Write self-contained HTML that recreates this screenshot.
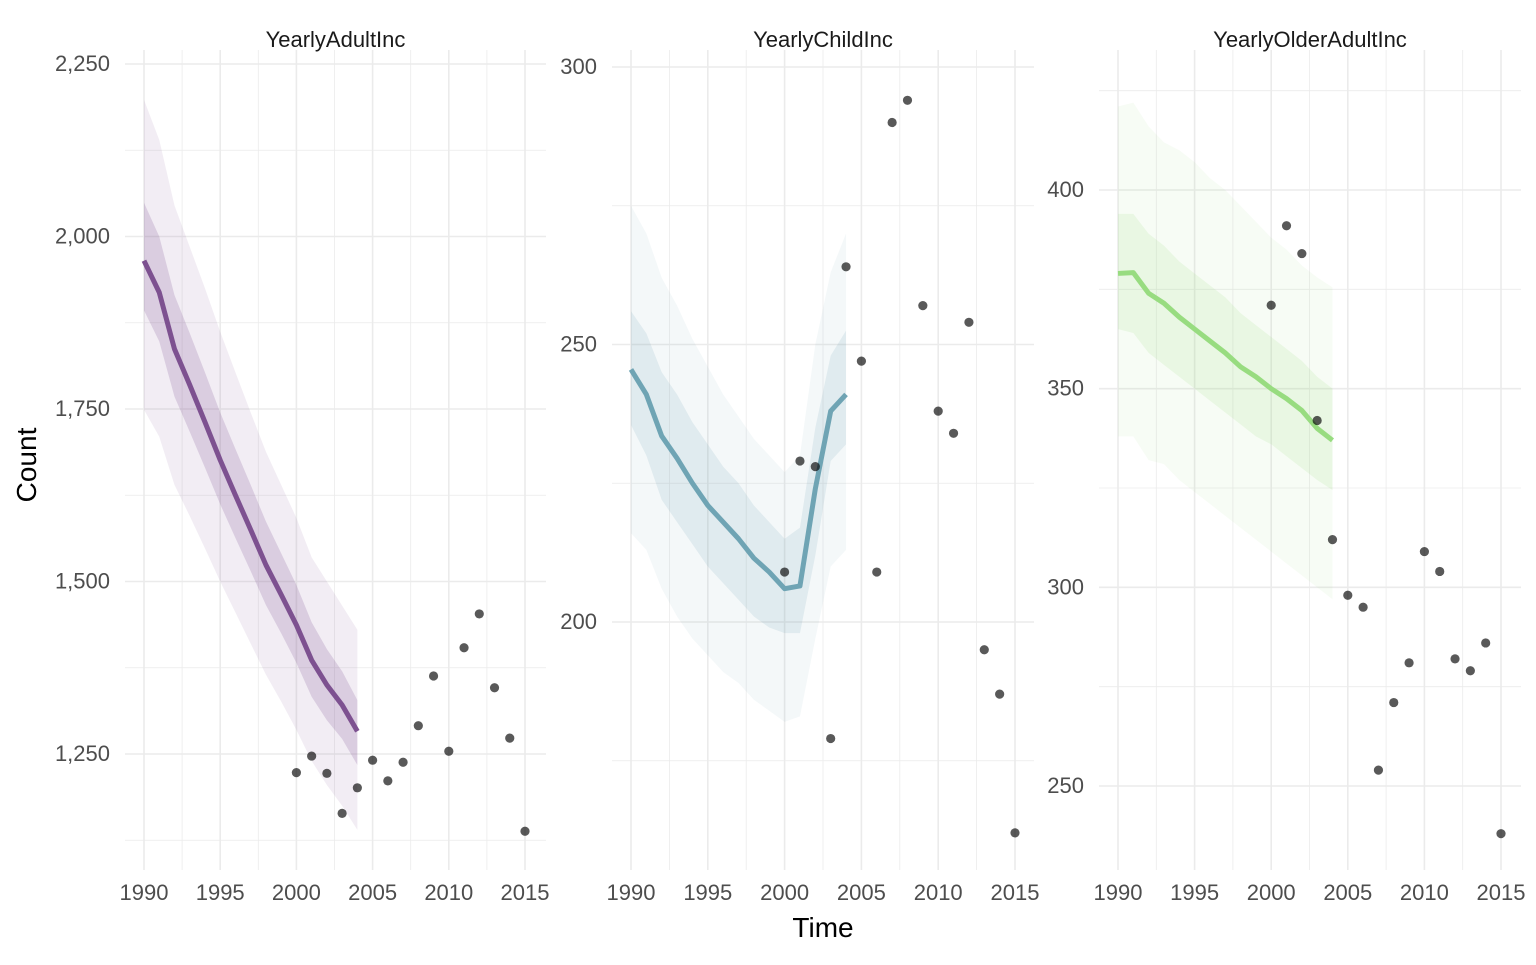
<!DOCTYPE html>
<html><head><meta charset="utf-8">
<style>
body{margin:0;background:#fff;font-family:"Liberation Sans",sans-serif;}
svg text{font-family:"Liberation Sans",sans-serif;}
</style></head>
<body>
<svg id="chart" width="1536" height="960" xmlns="http://www.w3.org/2000/svg">
<text x="36" y="465" font-size="28" text-anchor="middle" transform="rotate(-90 36 465)" fill="#000">Count</text>
<text x="823" y="937" font-size="28" text-anchor="middle" fill="#000">Time</text>
</svg>
<script>
const fcYears=[1990,1991,1992,1993,1994,1995,1996,1997,1998,1999,2000,2001,2002,2003,2004];
const obsYears=[2000,2001,2002,2003,2004,2005,2006,2007,2008,2009,2010,2011,2012,2013,2014,2015];
const xTicks=[1990,1995,2000,2005,2010,2015];
const xTickLabels=["1990","1995","2000","2005","2010","2015"];

const adultMean=[1965,1919,1837,1785,1731,1676,1625,1575,1524,1481,1437,1386,1350,1321,1283];
const adultHi80=[2049,2000,1915,1860,1803,1745,1692,1640,1587,1541,1495,1441,1402,1370,1328];
const adultLo80=[1893,1848,1768,1717,1665,1612,1563,1515,1466,1425,1382,1333,1299,1272,1234];
const adultHi95=[2198,2140,2045,1985,1925,1862,1803,1745,1688,1640,1592,1535,1500,1465,1430];
const adultLo95=[1749,1710,1640,1595,1548,1500,1455,1410,1365,1326,1285,1240,1205,1175,1140];
const adultObs=[1223,1247,1222,1164,1201,1241,1211,1238,1291,1363,1254,1404,1453,1346,1273,1138];
const adultTicks=[1250,1500,1750,2000,2250];
const adultTickLabels=["1,250","1,500","1,750","2,000","2,250"];

const childMean=[245.5,241,233.5,229.5,225,221,218,215,211.5,209,206,206.5,224,238,241];
const childHi80=[256,252,245,241,236,232,228,225,221,218,215,217,235,248,252.5];
const childLo80=[235.5,230,222,218,214,210,207,204,201,199,198,198,212,229,232];
const childHi95=[275,270,262,257,251,246,241,237,233,230,227,230,250,263,270];
const childLo95=[216,213,206,201,197,194,191,189,186,184,182,183,197,210,213];
const childObs=[209,229,228,179,264,247,209,290,294,257,238,234,254,195,187,162];
const childTicks=[200,250,300];
const childTickLabels=["200","250","300"];

const olderMean=[379,379.2,374,371.5,368,365,362,359,355.5,353,350,347.5,344.5,340,337];
const olderHi80=[394,394,389,386,382,379,376,373,369,366,363,360,357,353,350];
const olderLo80=[365,364,359,356,353,350,347,344,341,338,336,333,330,327,324.5];
const olderHi95=[421,422,416,412,410,407,403,400,396,392,388,385,381,378,375.5];
const olderLo95=[338,338,332,331,327,324,321,318,315,312,309,306,303,300,297];
const olderObs=[371,391,384,342,312,298,295,254,271,281,309,304,282,279,286,238];
const olderTicks=[250,300,350,400];
const olderTickLabels=["250","300","350","400"];

const NS="http://www.w3.org/2000/svg";
const svg=document.getElementById('chart');
function mk(tag,attrs,parent){const e=document.createElementNS(NS,tag);for(const k in attrs)e.setAttribute(k,attrs[k]);(parent||svg).appendChild(e);return e;}

const panels=[
 {title:"YearlyAdultInc",key:"adult",x0:125,x1:546,xa:144,xb:525,ya:2250,yaPx:64,yb:1250,ybPx:754,ticks:adultTicks,labels:adultTickLabels,
  mean:adultMean,hi80:adultHi80,lo80:adultLo80,hi95:adultHi95,lo95:adultLo95,obs:adultObs,col:"#7d5190",band:"#7d5190",a80:0.2,a95:0.1},
 {title:"YearlyChildInc",key:"child",x0:612,x1:1034,xa:631,xb:1015,ya:300,yaPx:67,yb:200,ybPx:622,ticks:childTicks,labels:childTickLabels,
  mean:childMean,hi80:childHi80,lo80:childLo80,hi95:childHi95,lo95:childLo95,obs:childObs,col:"#6fa4b4",band:"#6fa4b4",a80:0.15,a95:0.08},
 {title:"YearlyOlderAdultInc",key:"older",x0:1099,x1:1521,xa:1118,xb:1501,ya:400,yaPx:190,yb:250,ybPx:786,ticks:olderTicks,labels:olderTickLabels,
  mean:olderMean,hi80:olderHi80,lo80:olderLo80,hi95:olderHi95,lo95:olderLo95,obs:olderObs,col:"#98dc80",band:"#98dc80",a80:0.15,a95:0.08}
];
const yTop=50,yBot=870;
panels.forEach(p=>{
 const g=mk('g',{});
 
 
 const sx=v=>p.xa+(v-1990)*(p.xb-p.xa)/25;
 const sy=v=>p.yaPx+(p.ya-v)*(p.ybPx-p.yaPx)/(p.ya-p.yb);
 const vMin=p.ya-(yBot-p.yaPx)*(p.ya-p.yb)/(p.ybPx-p.yaPx);
 const vMax=p.ya+(p.yaPx-yTop)*(p.ya-p.yb)/(p.ybPx-p.yaPx);
 const step=p.ticks[1]-p.ticks[0];
 for(let v=p.ticks[0]-step*3;v<=vMax;v+=step/2){
  if(v<vMin)continue;
  const major=p.ticks.includes(v);
  const l=mk('line',{x1:p.x0,x2:p.x1,y1:sy(v),y2:sy(v),stroke:"#ebebeb","stroke-width":major?1.6:0.8},g);
  
  
 }
 for(let yr=1987.5;yr<=2017.5;yr+=2.5){
  const x=sx(yr); if(x<p.x0||x>p.x1)continue;
  const major=yr%5===0;
  const l=mk('line',{x1:x,x2:x,y1:yTop,y2:yBot,stroke:"#ebebeb","stroke-width":major?1.6:0.8},g);
  
  
 }
 const band=(hi,lo,a,name)=>{
  let d="M"+fcYears.map((y,i)=>sx(y)+","+sy(hi[i])).join("L");
  d+="L"+fcYears.slice().reverse().map((y,j)=>{const i=fcYears.length-1-j;return sx(y)+","+sy(lo[i]);}).join("L")+"Z";
  const e=mk('path',{d:d,fill:p.band,"fill-opacity":a},g);
  
  
 };
 band(p.hi95,p.lo95,p.a95,'interval-95-band');
 band(p.hi80,p.lo80,p.a80,'interval-80-band');
 const ln=mk('path',{d:"M"+fcYears.map((y,i)=>sx(y)+","+sy(p.mean[i])).join("L"),fill:"none",stroke:p.col,"stroke-width":5,"stroke-linejoin":"round"},g);
 
 
 obsYears.forEach((y,i)=>{
  const c=mk('circle',{cx:sx(y),cy:sy(p.obs[i]),r:4.6,fill:"#000","fill-opacity":0.65},g);
  
  
 });
 p.ticks.forEach((v,i)=>{
  const t=mk('text',{x:p.x0-15,y:sy(v)+7,"font-size":22,"text-anchor":"end",fill:"#4d4d4d"},g);
  t.textContent=p.labels[i];
  
  
 });
 xTicks.forEach((v,i)=>{
  const t=mk('text',{x:sx(v),y:900,"font-size":22,"text-anchor":"middle",fill:"#4d4d4d"},g);
  t.textContent=xTickLabels[i];
  
  
 });
 const tt=mk('text',{x:(p.x0+p.x1)/2,y:47,"font-size":22,"text-anchor":"middle",fill:"#1a1a1a"},g);
 tt.textContent=p.title;
 
 
});
</script>
</body></html>
